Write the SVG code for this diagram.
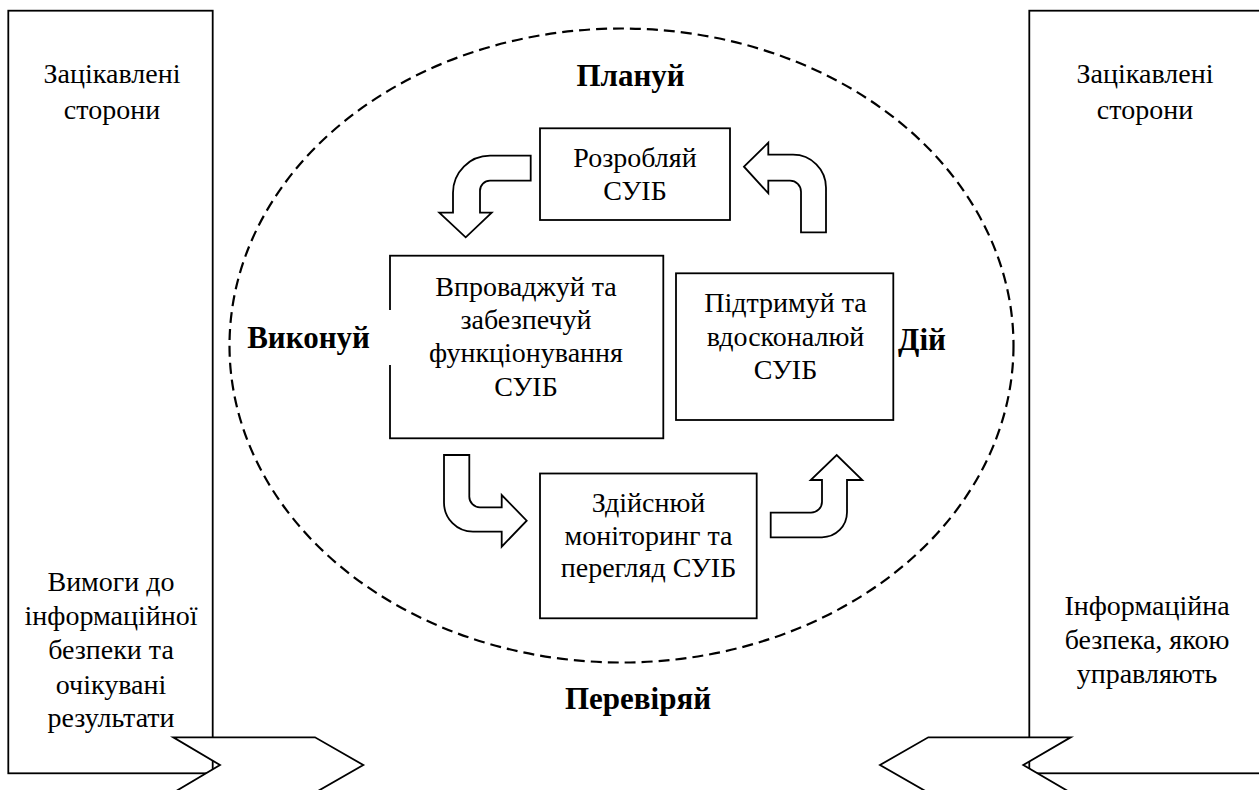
<svg xmlns="http://www.w3.org/2000/svg" width="1259" height="790" viewBox="0 0 1259 790">
<style>
.box{fill:#fff;stroke:#000;stroke-width:1.8}
.arr{fill:#fff;stroke:#000;stroke-width:1.8;stroke-linejoin:miter}
text{font-family:'Liberation Serif','Tinos','Times New Roman','DejaVu Serif','Noto Serif',serif;fill:#000;text-anchor:middle}
.t{font-size:28px}
.b{font-size:31px;font-weight:bold}
.dash{fill:none;stroke:#000;stroke-width:2.2;stroke-dasharray:11 6}
</style>
<rect width="1259" height="790" fill="#fff"/>
<g id="cycle-boundary">
<ellipse class="dash" cx="621.5" cy="345.5" rx="392" ry="317"/>
</g>
<g id="left-stakeholders">
<rect class="box" x="8.3" y="10.7" width="204.4" height="762.6"/>
<text class="t" x="112" y="83">Зацікавлені</text>
<text class="t" x="112" y="119">сторони</text>
<text class="t" x="111" y="591">Вимоги до</text>
<text class="t" x="111" y="625">інформаційної</text>
<text class="t" x="111" y="659">безпеки та</text>
<text class="t" x="111" y="694">очікувані</text>
<text class="t" x="111" y="727">результати</text>
</g>
<g id="right-stakeholders">
<rect class="box" x="1029.3" y="10.7" width="240" height="762.6"/>
<text class="t" x="1145" y="83">Зацікавлені</text>
<text class="t" x="1145" y="119">сторони</text>
<text class="t" x="1147" y="615">Інформаційна</text>
<text class="t" x="1147" y="649">безпека, якою</text>
<text class="t" x="1147" y="683">управляють</text>
</g>
<g id="connectors">
<polygon class="arr" points="173.3,737.3 315,737.3 363.3,765 315,792.7 173.3,792.7 220,765"/>
<polygon class="arr" points="1070.7,737.3 928.3,737.3 880,765 928.3,792.7 1070.7,792.7 1023.3,765"/>
<path class="arr" d="M530.7,155.7 L490,155.7 A37,37 0 0 0 453,192.7 L453,212.7 L439.3,212.7 L465.7,237.3 L491.7,212.7 L480,212.7 L480,190.7 A10,10 0 0 1 490,180.7 L530.7,180.7 Z"/>
<path class="arr" d="M744,166.7 L768.3,142.7 L768.3,154.7 L793,154.7 A33,33 0 0 1 826,187.7 L826,232.3 L801,232.3 L801,191.7 A11,11 0 0 0 790,180.7 L768.3,180.7 L768.3,193.3 Z"/>
<path class="arr" d="M444,455 L469.3,455 L469.3,496.7 A10.6,10.6 0 0 0 479.9,507.3 L501.7,507.3 L501.7,495 L526.7,520.7 L501.7,546.7 L501.7,531.7 L473,531.7 A29,29 0 0 1 444,502.7 Z"/>
<path class="arr" d="M770.7,512.7 L811,512.7 A11,11 0 0 0 822,501.7 L822,480 L810.7,480 L836.7,455 L862.3,480 L847,480 L847,512.3 A25,25 0 0 1 822,537.3 L770.7,537.3 Z"/>
</g>
<g id="plan">
<text class="b" x="630.5" y="86">Плануй</text>
<rect class="box" x="540" y="128.3" width="190" height="91.7"/>
<text class="t" x="635" y="166.7">Розробляй</text>
<text class="t" x="635" y="200">СУІБ</text>
</g>
<g id="do">
<rect class="box" x="390" y="255.7" width="273.3" height="182.6"/>
<text class="t" x="526" y="296">Впроваджуй та</text>
<text class="t" x="526" y="329">забезпечуй</text>
<text class="t" x="526" y="362">функціонування</text>
<text class="t" x="526" y="396">СУІБ</text>
<rect x="243" y="310" width="148" height="55" fill="#fff"/>
<text class="b" x="308.5" y="348">Виконуй</text>
</g>
<g id="act">
<rect class="box" x="676" y="273.3" width="217.3" height="146.7"/>
<text class="t" x="785.5" y="311.7">Підтримуй та</text>
<text class="t" x="785.5" y="346">вдосконалюй</text>
<text class="t" x="785.5" y="379.3">СУІБ</text>
<text class="b" x="922" y="350">Дій</text>
</g>
<g id="check">
<rect class="box" x="540" y="473.5" width="216.7" height="144.8"/>
<text class="t" x="648.5" y="511.7">Здійснюй</text>
<text class="t" x="648.5" y="545">моніторинг та</text>
<text class="t" x="648.5" y="577.3">перегляд СУІБ</text>
<text class="b" x="638" y="709.3">Перевіряй</text>
</g>
</svg>
